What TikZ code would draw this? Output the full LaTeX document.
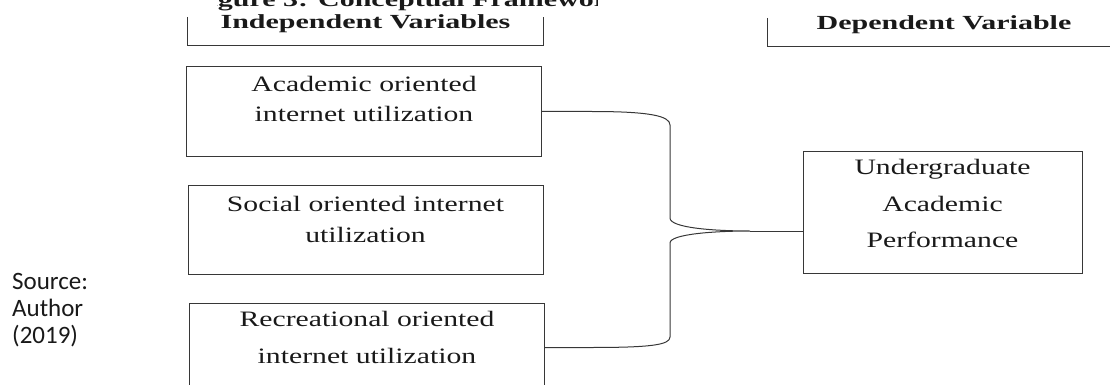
\documentclass[tikz,border=0pt]{standalone}
\usepackage{fontspec}
\usepackage{graphicx}
\setmainfont{Liberation Serif}
\newfontfamily\calibri{Carlito}
\usepackage{tikz}
\usetikzlibrary{positioning, calc}
\definecolor{frameline}{RGB}{55,55,55}
\definecolor{inktext}{RGB}{25,25,25}
\newcommand{\widetxt}[1]{\scalebox{1.5}[1]{#1}}
\newcommand{\wideser}[1]{\scalebox{1.35}[1]{#1}}

\begin{document}
\begin{tikzpicture}[x=1pt, y=-1pt,
    hdrbox/.style={inner sep=0, text height=12pt, text depth=16pt, text=inktext, font=\bfseries\fontsize{20}{24}\selectfont},
    ivbox/.style={draw=frameline, line width=1pt, minimum width=355pt, minimum height=89pt, inner sep=0},
    dvbox/.style={draw=frameline, line width=1pt, minimum width=279pt, minimum height=122pt, inner sep=0},
    boxtext/.style={inner sep=0, align=center, text=inktext},
    frame/.style={draw=frameline, line width=1pt},
    brace/.style={draw=frameline, line width=1pt}
]
    \useasboundingbox (0,0) rectangle (1110,385);

    % partly hidden title
    \begin{scope}
        \clip (217,0) rectangle (597,20);
        \node[inner sep=0, anchor=base west, text=inktext, font=\bfseries\fontsize{20}{24}\selectfont] (title) at (191,7) {\widetxt{Figure 3: Conceptual Framework}};
    \end{scope}

    % headers
    \node[hdrbox, minimum width=355pt, anchor=base] (indep) at (365.5,29) {\widetxt{Independent Variables}};
    \draw[frame] (indep.north west) |- (indep.south east) -- (indep.north east);
    \node[hdrbox, minimum width=352pt, anchor=base] (dep) at (944,30) {\widetxt{Dependent Variable}};
    \draw[frame] (dep.north west) |- (dep.south east);

    % independent variables
    \node[ivbox] (acad) at (364,111.5) {};
    \node[ivbox] (soc) at (365.5,229.5) {};
    \node[ivbox] (rec) at (367,347.5) {};
    \node[boxtext, font=\fontsize{22}{30}\selectfont, below=10pt of acad.north] (acadtxt) {\wideser{Academic oriented}\\\wideser{internet utilization}};
    \node[boxtext, font=\fontsize{22}{31}\selectfont, below=12pt of soc.north] (soctxt) {\wideser{Social oriented internet}\\\wideser{utilization}};
    \node[boxtext, font=\fontsize{22}{37}\selectfont, below=9pt of rec.north] (rectxt) {\wideser{Recreational oriented}\\\wideser{internet utilization}};

    % dependent variable
    \node[dvbox] (perf) at (942.5,212) {};
    \node[boxtext, font=\fontsize{22}{36.5}\selectfont, below=9pt of perf.north] (perftxt) {\wideser{Undergraduate}\\\wideser{Academic}\\\wideser{Performance}};

    % brace joining the three boxes
    \coordinate (tip) at (750,231);
    \draw[brace] (acad.east) -- ++(50,0) .. controls (650,111.5) and (670,116) .. (670,125)
        -- (670,218) .. controls (670,228) and (715,231) .. (tip)
        .. controls (715,231) and (670,234) .. (670,243)
        -- (670,337) .. controls (670,345) and (650,347.5) .. (591,347.5) -- (rec.east);
    \draw[brace] (tip) -- (tip -| perf.west);

    % source note
    \node[inner sep=0, anchor=north west, align=left, text=inktext, font=\calibri\fontsize{25}{27}\selectfont] (src) at (12,273) {Source:\\Author\\(2019)};
\end{tikzpicture}
\end{document}
